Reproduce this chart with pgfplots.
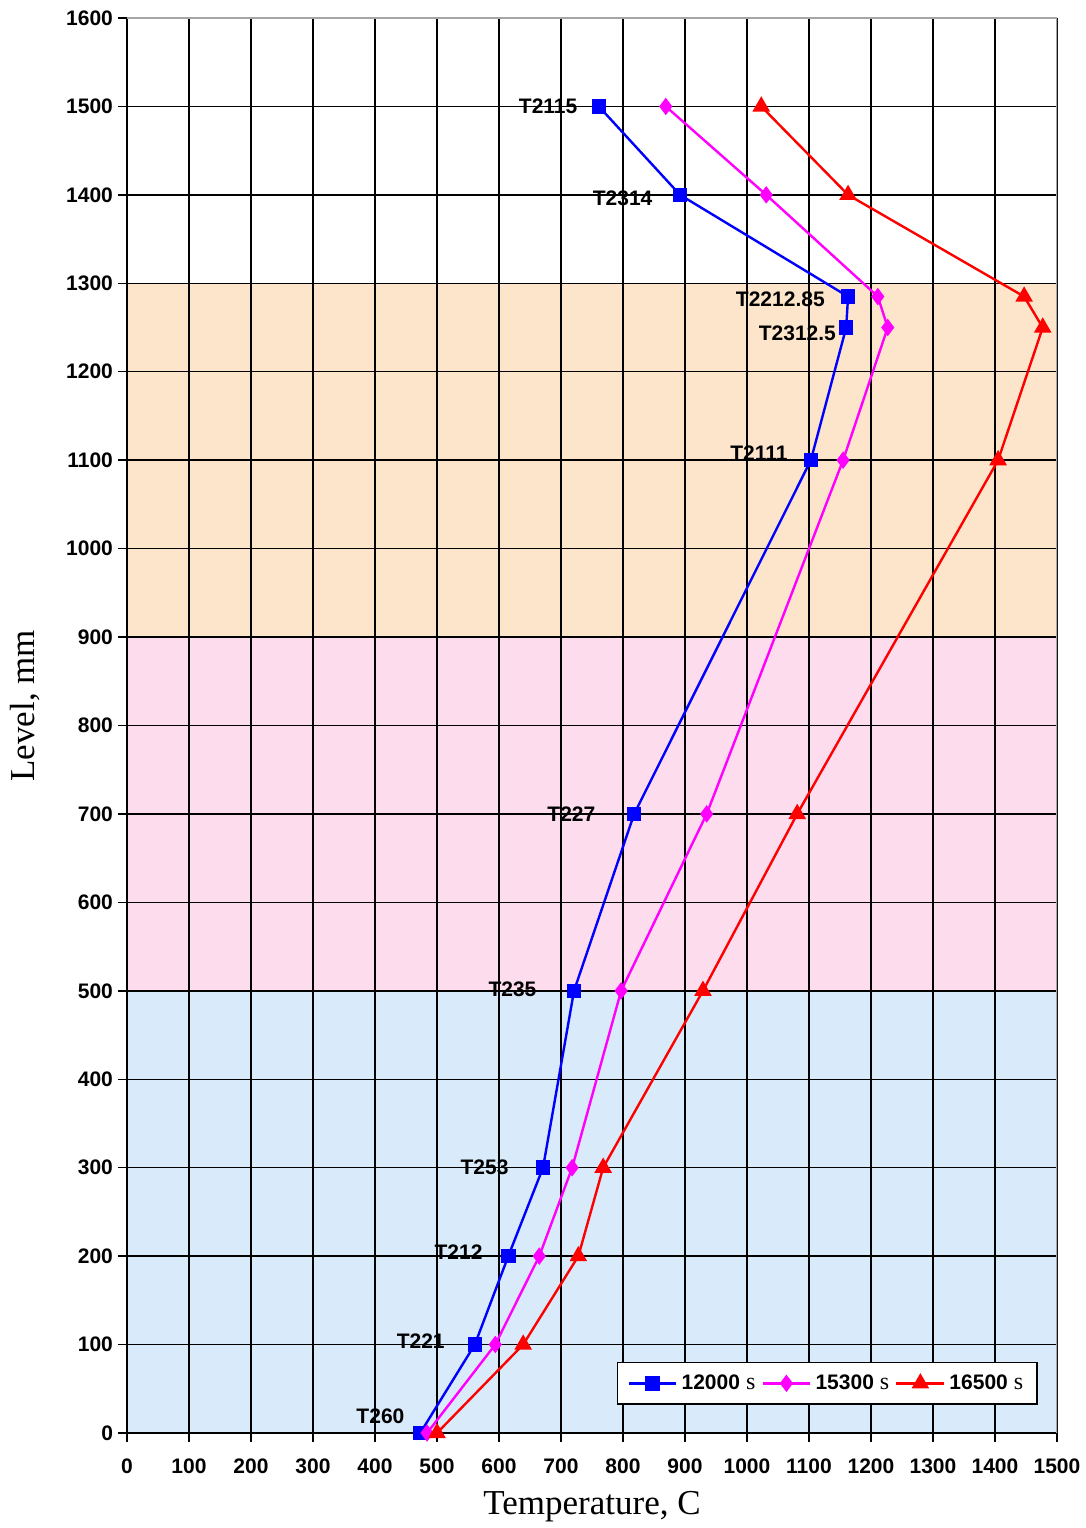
\documentclass[border=0pt]{standalone}
\usepackage{pgfplots}
\pgfplotsset{compat=1.18}
\usepackage{fontspec}
\setmainfont{Liberation Sans}
\newfontfamily\seriffont{Liberation Serif}

\definecolor{bandlow}{RGB}{217,234,250}
\definecolor{bandmid}{RGB}{253,220,238}
\definecolor{bandhigh}{RGB}{253,229,203}
\definecolor{lineblue}{RGB}{0,0,255}
\definecolor{linepink}{RGB}{255,0,255}
\definecolor{linered}{RGB}{255,0,0}

\newcommand{\ticklab}{\bfseries\fontsize{10.5}{12}\selectfont}

\begin{document}
\begin{tikzpicture}
\begin{axis}[
  set layers,
  scale only axis,
  width=465pt, height=707.5pt,
  at={(0,0)}, anchor=south west,
  xmin=0, xmax=1500, ymin=0, ymax=1600,
  xtick={0,100,...,1500}, ytick={0,100,...,1600},
  axis lines*=left,
  axis line style={black, line width=0.8pt},
  grid=major,
  major grid style={black, line width=0.7pt},
  tick align=outside,
  major tick length=4.5pt,
  tick style={black, line width=0.7pt},
  tick label style={font=\ticklab},
  xticklabel style={yshift=-5pt},
  yticklabel style={xshift=1pt},
  /pgf/number format/assume math mode=true,
  /pgf/number format/1000 sep={},
  xlabel={Temperature, C},
  ylabel={Level, mm},
  label style={font=\seriffont\fontsize{17.5}{20}\selectfont},
  xlabel style={at={(axis description cs:0.5,-0.0523)}, anchor=center},
  ylabel style={at={(axis description cs:-0.1097,0.514)}, anchor=center},
  legend columns=3,
  legend style={at={(0.9796,0.0198)}, anchor=south east, draw=black,
    line width=0.8pt, fill=white, font=\ticklab,
    inner xsep=5pt, inner ysep=4pt,
    /tikz/every even column/.append style={column sep=1pt}},
  legend image code/.code={%
    \draw[mark repeat=2, mark phase=2, line width=1.2pt]
      plot coordinates {(0cm,0cm) (0.42cm,0cm) (0.84cm,0cm)};},
]
% temperature zones behind the grid
\addplot[fill=bandlow, draw=none, forget plot, on layer=axis background]
  coordinates {(0,0) (1500,0) (1500,500) (0,500)} -- cycle;
\addplot[fill=bandmid, draw=none, forget plot, on layer=axis background]
  coordinates {(0,500) (1500,500) (1500,900) (0,900)} -- cycle;
\addplot[fill=bandhigh, draw=none, forget plot, on layer=axis background]
  coordinates {(0,900) (1500,900) (1500,1300) (0,1300)} -- cycle;

\addplot[color=lineblue, line width=1.2pt, mark=square*, mark size=3pt, mark options={solid, fill=lineblue}]
  coordinates {(473,0) (561,100) (615,200) (671,300) (721,500) (818,700)
    (1103,1100) (1160,1250) (1163,1285) (892,1400) (761,1500)};
\addlegendentry{12000\hspace{3pt}{\seriffont\mdseries\fontsize{12}{12}\selectfont s}}

\addplot[color=linepink, line width=1.2pt, mark=diamond*, mark size=3.4pt, mark options={solid, fill=linepink}]
  coordinates {(484,0) (594,100) (665,200) (718,300) (797,500) (935,700)
    (1155,1100) (1227,1250) (1211,1285) (1031,1400) (869,1500)};
\addlegendentry{15300\hspace{3pt}{\seriffont\mdseries\fontsize{12}{12}\selectfont s}}

\addplot[color=linered, line width=1.2pt, mark=triangle*, mark size=3.9pt, mark options={solid, fill=linered}]
  coordinates {(500,0) (639,100) (728,200) (768,300) (929,500) (1081,700)
    (1405,1100) (1477,1250) (1447,1285) (1163,1400) (1023,1500)};
\addlegendentry{16500\hspace{3pt}{\seriffont\mdseries\fontsize{12}{12}\selectfont s}}

% thermocouple names
\node[anchor=east, inner sep=0pt, font=\ticklab] at (axis cs:727,1500) {T2115};
\node[anchor=east, inner sep=0pt, font=\ticklab] at (axis cs:848,1396) {T2314};
\node[anchor=east, inner sep=0pt, font=\ticklab] at (axis cs:1126,1282) {T2212.85};
\node[anchor=east, inner sep=0pt, font=\ticklab] at (axis cs:1144,1243) {T2312.5};
\node[anchor=east, inner sep=0pt, font=\ticklab] at (axis cs:1066,1108) {T2111};
\node[anchor=east, inner sep=0pt, font=\ticklab] at (axis cs:756,700) {T227};
\node[anchor=east, inner sep=0pt, font=\ticklab] at (axis cs:661,502) {T235};
\node[anchor=east, inner sep=0pt, font=\ticklab] at (axis cs:616,300) {T253};
\node[anchor=east, inner sep=0pt, font=\ticklab] at (axis cs:574,205) {T212};
\node[anchor=east, inner sep=0pt, font=\ticklab] at (axis cs:513,104) {T221};
\node[anchor=east, inner sep=0pt, font=\ticklab] at (axis cs:448,19) {T260};

\draw[gray!70, line width=0.6pt] (rel axis cs:0,1) -- (rel axis cs:1,1) -- (rel axis cs:1,0);
\end{axis}
\pgfresetboundingbox
\useasboundingbox (-63.5pt,-47.5pt) rectangle (479.5pt,716.5pt);
\end{tikzpicture}
\end{document}
